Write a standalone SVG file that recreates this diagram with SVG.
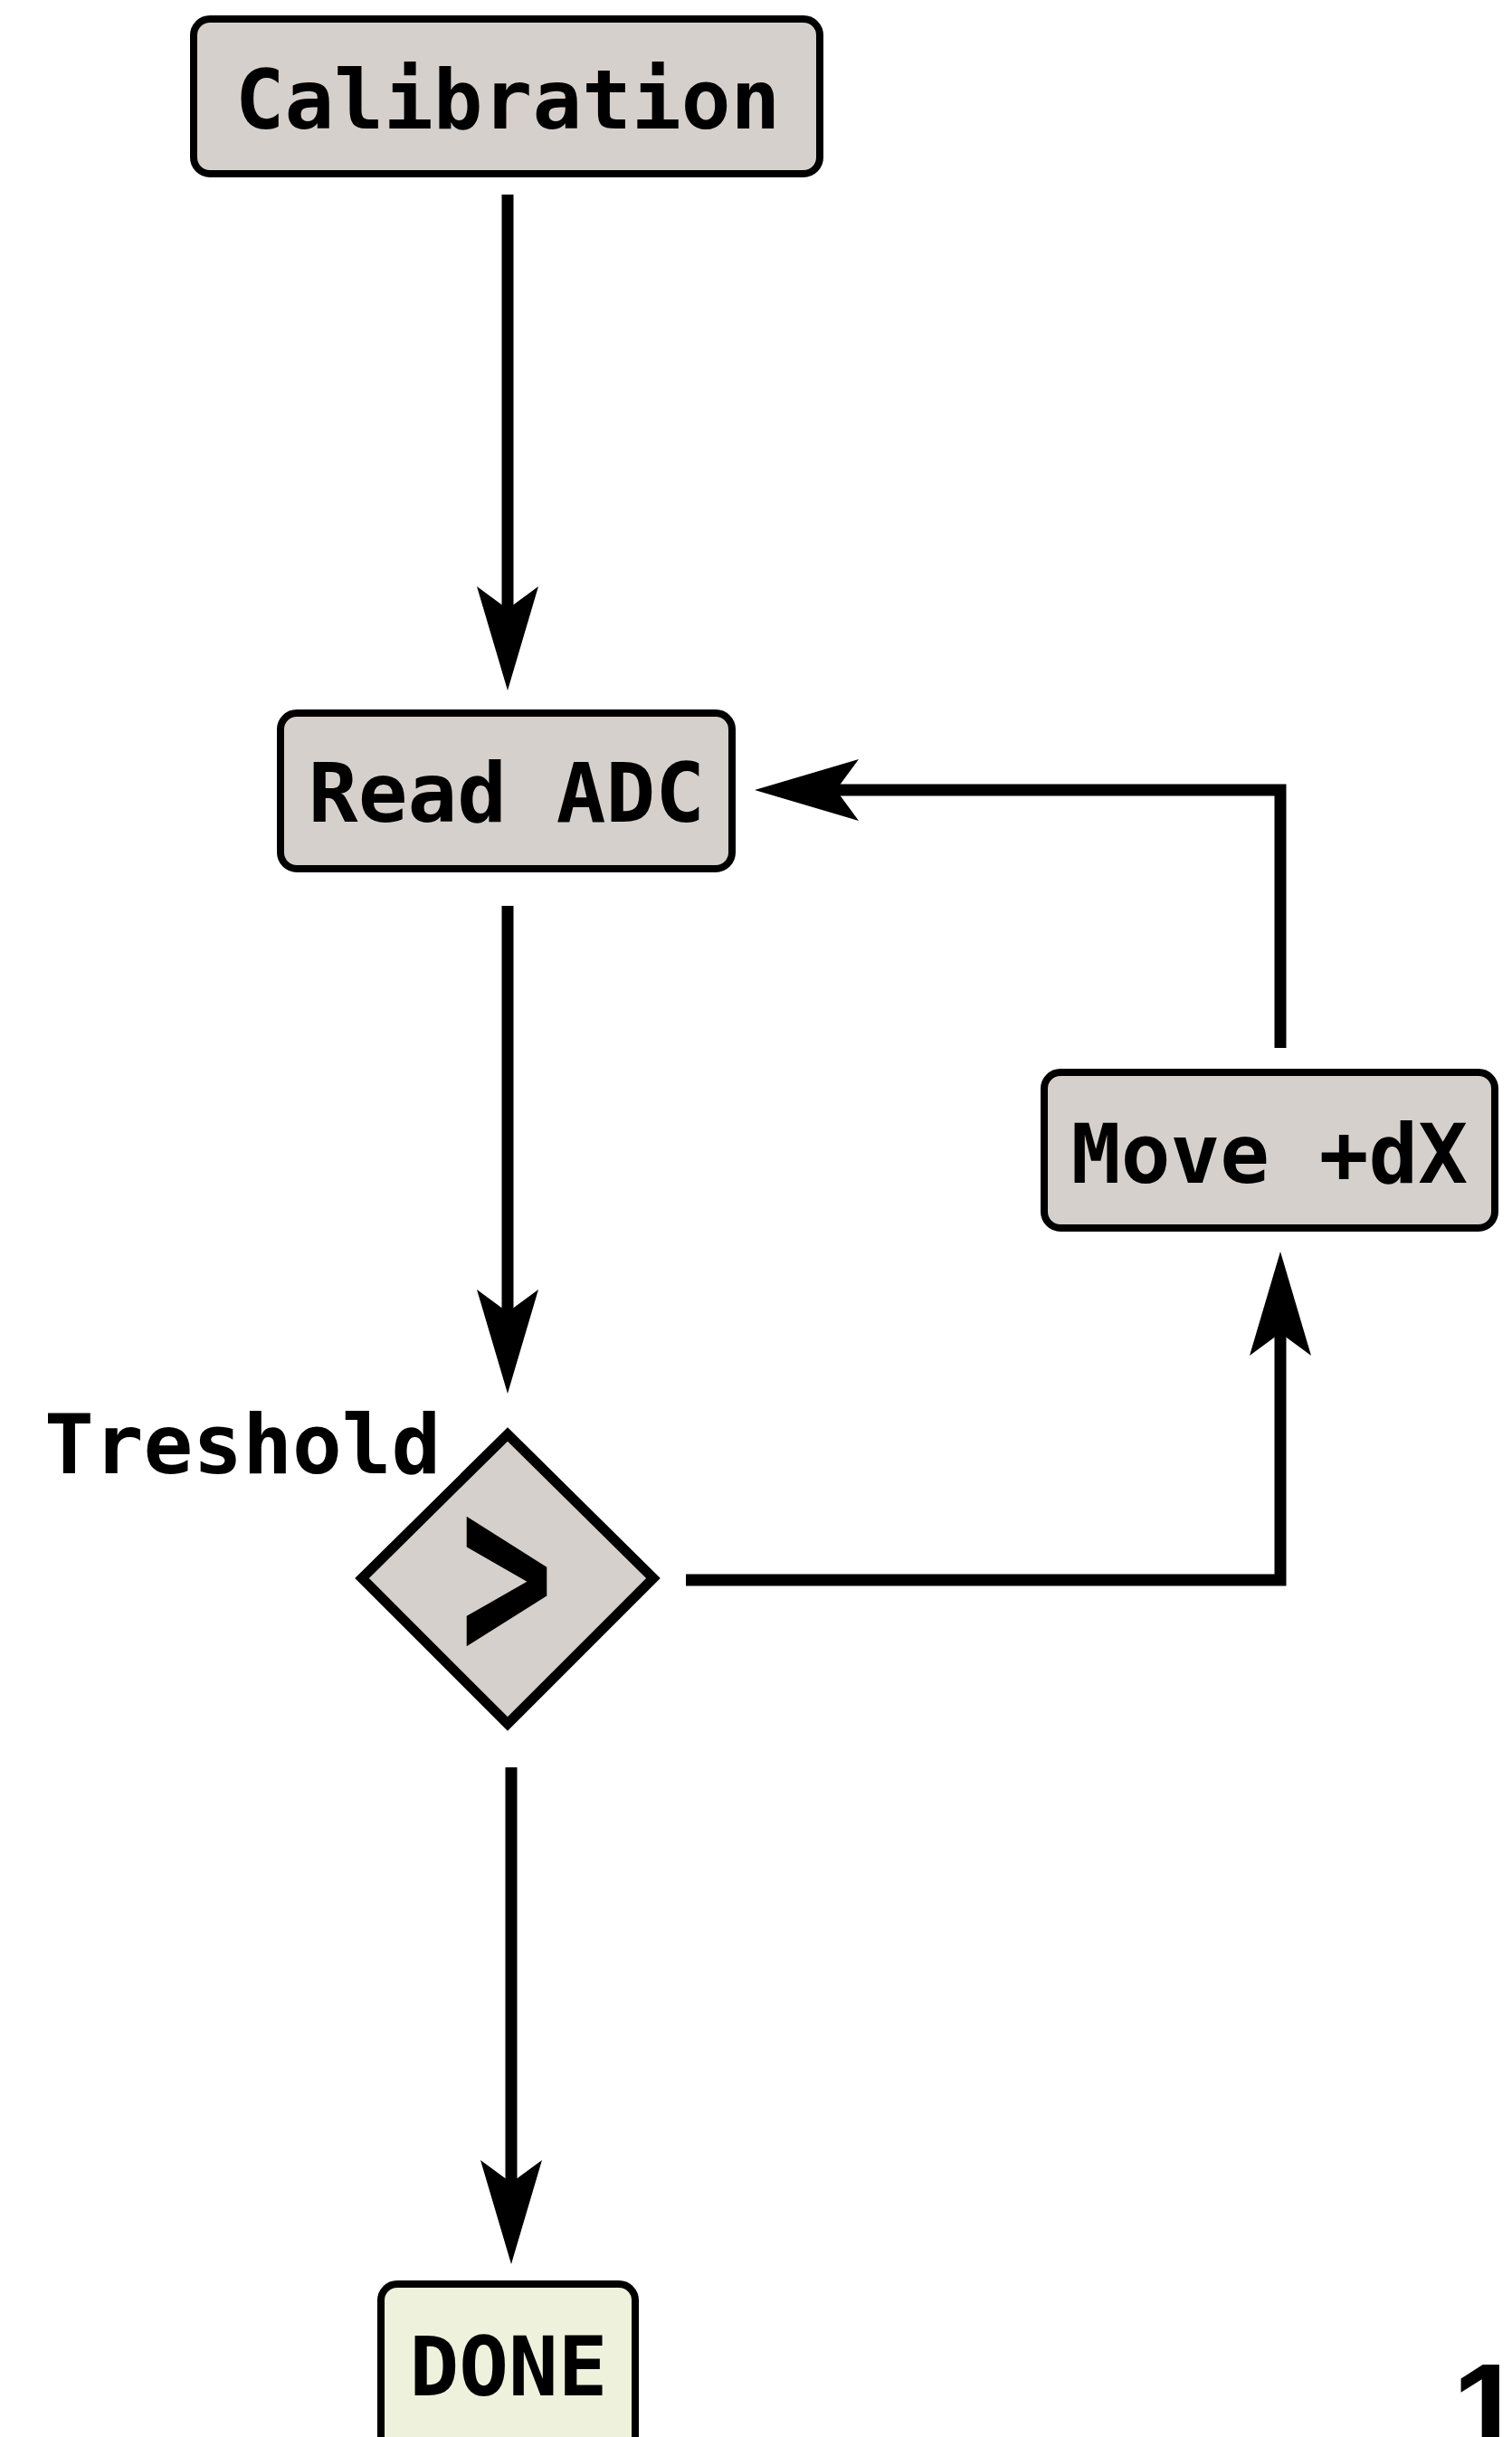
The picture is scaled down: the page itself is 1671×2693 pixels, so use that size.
<svg xmlns="http://www.w3.org/2000/svg" width="1671" height="2693" viewBox="0 0 1671 2693">
  <style>
    .box { fill: #d6d0cc; stroke: #000; stroke-width: 8; }
    .done { fill: #eef2dc; stroke: #000; stroke-width: 8; }
    .lbl { font-family: "DejaVu Sans Mono", "Liberation Mono", monospace; font-weight: bold; font-size: 91px; fill: #000; }
    .mid { text-anchor: middle; }
    .wire { fill: none; stroke: #000; stroke-width: 13; stroke-linejoin: miter; marker-end: url(#head); }
  </style>
  <defs>
    <!-- notched arrowhead; the line ends at the notch, the tip sits 90 units ahead -->
    <marker id="head" markerUnits="userSpaceOnUse" orient="auto" viewBox="-30 -40 130 80" markerWidth="130" markerHeight="80" refX="0" refY="0">
      <path d="M90,0 L-25,-34 L0,0 L-25,34 Z" fill="#000"/>
    </marker>
  </defs>
  <rect width="1671" height="2693" fill="#fff"/>

  <g id="connectors">
    <path class="wire" d="M561,215 V673"/>
    <path class="wire" d="M561,1001 V1450"/>
    <path class="wire" d="M565,1953 V2412"/>
    <path class="wire" d="M758,1746 H1415 V1473"/>
    <path class="wire" d="M1415,1158 V873 H924"/>
  </g>

  <g id="calibration">
    <rect class="box" x="214" y="21" width="692" height="171" rx="18"/>
    <text class="lbl mid" x="561" y="142">Calibration</text>
  </g>

  <g id="read-adc">
    <rect class="box" x="310" y="788" width="499" height="172" rx="18"/>
    <text class="lbl mid" x="560" y="908">Read ADC</text>
  </g>

  <g id="move-dx">
    <rect class="box" x="1154" y="1185" width="498" height="172" rx="18"/>
    <text class="lbl mid" x="1403" y="1307">Move +dX</text>
  </g>

  <g id="threshold">
    <polygon class="box" points="561,1585 722,1744 561,1905 400,1744" style="stroke-width:11"/>
    <text class="lbl mid" transform="translate(560,1834) scale(0.66,1.06)" x="0" y="0" style="font-size:260px">&gt;</text>
    <text class="lbl" x="49" y="1628">Treshold</text>
  </g>

  <g id="done">
    <rect class="done" x="421" y="2524" width="281" height="220" rx="18"/>
    <text class="lbl mid" x="562" y="2647">DONE</text>
  </g>

  <text x="1605" y="2709" font-family="Liberation Sans, Arial, sans-serif" font-weight="bold" font-size="140">1</text>
</svg>
